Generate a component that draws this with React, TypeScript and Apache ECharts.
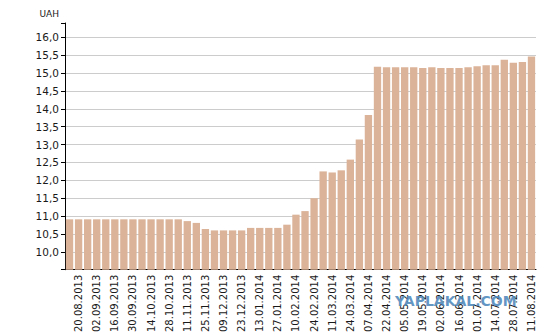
import React, { useEffect, useRef } from "react";
import * as echarts from "echarts";

const dates: string[] = [
  "13.08.2013", "20.08.2013", "26.08.2013", "02.09.2013", "09.09.2013", "16.09.2013",
  "23.09.2013", "30.09.2013", "07.10.2013", "14.10.2013", "21.10.2013", "28.10.2013",
  "04.11.2013", "11.11.2013", "18.11.2013", "25.11.2013", "02.12.2013", "09.12.2013",
  "16.12.2013", "23.12.2013", "06.01.2014", "13.01.2014", "20.01.2014", "27.01.2014",
  "03.02.2014", "10.02.2014", "17.02.2014", "24.02.2014", "03.03.2014", "11.03.2014",
  "17.03.2014", "24.03.2014", "31.03.2014", "07.04.2014", "14.04.2014", "22.04.2014",
  "28.04.2014", "05.05.2014", "12.05.2014", "19.05.2014", "26.05.2014", "02.06.2014",
  "09.06.2014", "16.06.2014", "23.06.2014", "01.07.2014", "07.07.2014", "14.07.2014",
  "21.07.2014", "28.07.2014", "04.08.2014", "11.08.2014",
];

const rates: number[] = [
  10.91, 10.91, 10.91, 10.91, 10.91, 10.91, 10.91, 10.91, 10.91, 10.91, 10.91, 10.91,
  10.91, 10.86, 10.81, 10.64, 10.6, 10.6, 10.6, 10.6, 10.67, 10.67, 10.67, 10.67,
  10.76, 11.04, 11.14, 11.5, 12.25, 12.22, 12.28, 12.58, 13.14, 13.83, 15.18, 15.16,
  15.16, 15.16, 15.16, 15.14, 15.16, 15.14, 15.14, 15.14, 15.16, 15.19, 15.22, 15.22,
  15.37, 15.29, 15.31, 15.46,
];

const unitLabel = "UAH";
const watermark = "YAPLAKAL.COM";

export default function App() {
  const ref = useRef<HTMLDivElement>(null);
  useEffect(() => {
    document.body.style.margin = "0";
    if (!ref.current) return;
    const chart = echarts.init(ref.current, null, { renderer: "svg" });
    const font = "DejaVu Sans, Verdana, sans-serif";
    chart.setOption({
      animation: false,
      backgroundColor: "#ffffff",
      grid: { left: 65, top: 23, right: 24, bottom: 64 },
      xAxis: {
        type: "category",
        data: dates,
        boundaryGap: true,
        axisLine: { lineStyle: { color: "#000", width: 1 } },
        axisTick: {
          interval: (i: number) => i % 2 === 1,
          alignWithLabel: true,
          length: 4,
          lineStyle: { color: "#000" },
        },
        axisLabel: {
          interval: (i: number) => i % 2 === 1,
          rotate: 90,
          margin: 5,
          fontFamily: font,
          fontSize: 10,
          color: "#1a1a1a",
        },
        splitLine: { show: false },
      },
      yAxis: {
        type: "value",
        min: 9.5,
        max: 16.4,
        interval: 0.5,
        name: unitLabel,
        nameLocation: "end",
        nameGap: 5,
        nameTextStyle: {
          fontFamily: font,
          fontSize: 9,
          color: "#1a1a1a",
          align: "right",
          padding: [0, 6, 0, 0],
        },
        axisLine: { show: true, lineStyle: { color: "#000", width: 1 } },
        axisTick: { show: true, length: 4, lineStyle: { color: "#000" } },
        axisLabel: {
          margin: 6,
          fontFamily: font,
          fontSize: 10.5,
          color: "#1a1a1a",
          formatter: (v: number) =>
            v < 9.9 || v > 16.1 ? "" : v.toFixed(1).replace(".", ","),
        },
        splitLine: {
          show: true,
          showMaxLine: false,
          showMinLine: false,
          lineStyle: { color: "#cccccc", width: 1 },
        },
      },
      series: [
        {
          type: "bar",
          data: rates,
          barCategoryGap: "19%",
          itemStyle: { color: "#dbb398" },
        },
      ],
      graphic: [
        {
          type: "text",
          left: 395,
          top: 294,
          z: 100,
          style: {
            text: watermark,
            fontFamily: font,
            fontWeight: "bold",
            fontSize: 14,
            fill: "rgba(78,136,188,0.9)",
          },
        },
      ],
    });
    return () => chart.dispose();
  }, []);
  return <div ref={ref} style={{ width: 560, height: 335 }} />;
}
